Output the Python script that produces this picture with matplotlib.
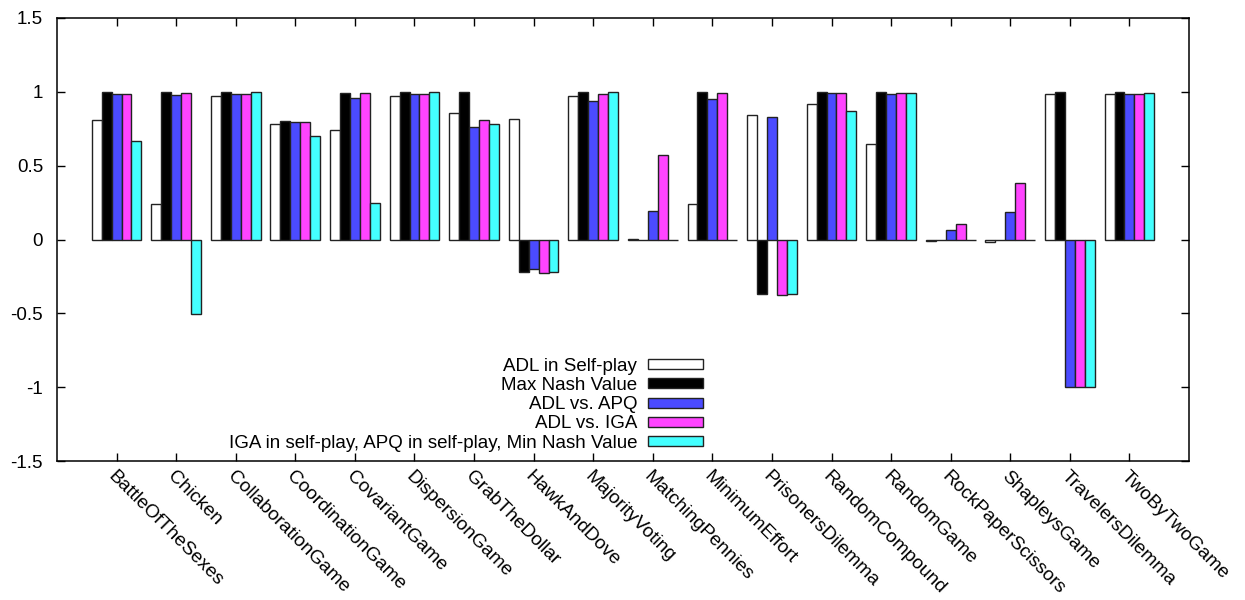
import numpy as np
from matplotlib import pyplot as plt

plt.rcParams['font.family'] = ['Liberation Sans', 'DejaVu Sans']

games = ['BattleOfTheSexes', 'Chicken', 'CollaborationGame', 'CoordinationGame',
         'CovariantGame', 'DispersionGame', 'GrabTheDollar', 'HawkAndDove',
         'MajorityVoting', 'MatchingPennies', 'MinimumEffort', 'PrisonersDilemma',
         'RandomCompound', 'RandomGame', 'RockPaperScissors', 'ShapleysGame',
         'TravelersDilemma', 'TwoByTwoGame']

adl_self = [0.806, 0.24, 0.973, 0.784, 0.743, 0.975, 0.855, 0.815, 0.973, 0.005,
            0.239, 0.842, 0.916, 0.646, -0.01, -0.018, 0.984, 0.984]
max_nash = [1.0, 1.0, 1.0, 0.8, 0.995, 1.0, 1.0, -0.219, 1.0, 0.0,
            1.0, -0.372, 1.0, 1.0, 0.0, 0.0, 1.0, 1.0]
adl_apq = [0.982, 0.977, 0.988, 0.793, 0.96, 0.986, 0.761, -0.2, 0.941, 0.191,
           0.95, 0.831, 0.991, 0.982, 0.061, 0.187, -1.0, 0.988]
adl_iga = [0.986, 0.993, 0.988, 0.793, 0.99, 0.986, 0.808, -0.225, 0.986, 0.574,
           0.99, -0.378, 0.991, 0.995, 0.108, 0.38, -1.0, 0.988]
min_nash = [0.669, -0.505, 0.997, 0.698, 0.247, 0.997, 0.784, -0.219, 0.997, 0.0,
            0.0, -0.372, 0.869, 0.995, 0.0, 0.0, -1.0, 0.995]

series = [adl_self, max_nash, adl_apq, adl_iga, min_nash]
labels = ['ADL in Self-play', 'Max Nash Value', 'ADL vs. APQ', 'ADL vs. IGA',
          'IGA in self-play, APQ in self-play, Min Nash Value']
colors = ['#ffffff', '#000000', '#4b4bff', '#ff44ff', '#44ffff']

fs = 13.5

fig = plt.figure(figsize=(12.45, 6), dpi=100)
ax = fig.add_axes([57 / 1245, 1 - 461 / 600, (1189 - 57) / 1245, (461 - 18) / 600])

x = np.arange(len(games))
w = 1 / 6
for k, (vals, lab, col) in enumerate(zip(series, labels, colors)):
    ax.bar(x + (k - 2) * w, vals, width=w, color=col, edgecolor='#222222',
           linewidth=1.0, label=lab)

ax.set_xlim(-1, len(games))
ax.set_ylim(-1.5, 1.5)
ax.set_yticks([-1.5, -1, -0.5, 0, 0.5, 1, 1.5])
ax.set_yticklabels(['-1.5', '-1', '-0.5', '0', '0.5', '1', '1.5'])
ax.set_xticks(x)
ax.set_xticklabels(games, rotation=-45, ha='left', va='top', rotation_mode='anchor')
ax.tick_params(direction='in', length=6, width=1, top=True, right=True,
               labelsize=fs, colors='black')
ax.tick_params(axis='y', pad=10)
ax.tick_params(axis='x', pad=5, labelsize=13.8)
for s in ax.spines.values():
    s.set_linewidth(1.1)

leg = ax.legend(loc='lower right', bbox_to_anchor=(714 / 1245, 1 - 463 / 600),
                bbox_transform=fig.transFigure, frameon=False, markerfirst=False,
                fontsize=fs, handlelength=2.9, handleheight=0.45, labelspacing=0.12,
                handletextpad=0.6, borderpad=0.1)
for t in leg.get_texts():
    t.set_ha('right')
leg._legend_box.align = 'right'

fig.savefig('out.png', dpi=100)
